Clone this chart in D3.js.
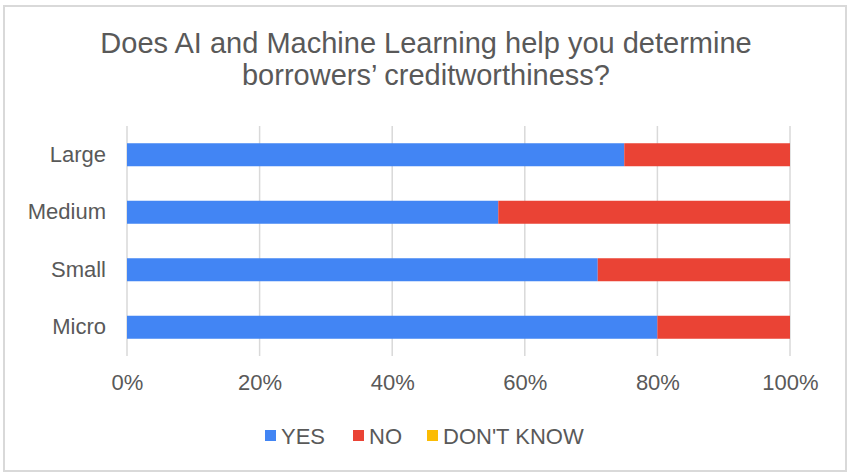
<!DOCTYPE html>
<html>
<head>
<meta charset="utf-8">
<script src="https://cdn.jsdelivr.net/npm/d3@7"></script>
<style>
  body { margin: 0; background: #fff; }
  svg text { font-family: "Liberation Sans", Arial, sans-serif; fill: #595959; }
</style>
</head>
<body>
<div id="graph"></div>
<script>
const categories = ["Large", "Medium", "Small", "Micro"];
const seriesNames = ["YES", "NO", "DON'T KNOW"];
const yesValues = [0.75, 0.56, 0.71, 0.80];
const noValues = [0.25, 0.44, 0.29, 0.20];
const dontKnowValues = [0, 0, 0, 0];
const tickValues = [0, 0.2, 0.4, 0.6, 0.8, 1];
const colors = ["#4285F4", "#EA4335", "#FBBC04"];

const W = 850, H = 473;
const margin = {top: 126, right: 60, bottom: 117, left: 127};

const svg = d3.select("#graph")
    .append("svg")
    .attr("width", W)
    .attr("height", H);

// outer border
svg.append("rect")
    .attr("x", 4).attr("y", 6)
    .attr("width", 842).attr("height", 465)
    .attr("fill", "#fff")
    .attr("stroke", "#d9d9d9")
    .attr("stroke-width", 2);

const x = d3.scaleLinear()
    .domain([0, 1])
    .range([margin.left, W - margin.right]);
const y = d3.scaleBand()
    .domain(categories)
    .range([margin.top, H - margin.bottom])
    .paddingInner(0.6)
    .paddingOuter(0.3);

// title
svg.append("text")
    .attr("text-anchor", "middle")
    .style("font-size", "29px")
    .selectAll("tspan")
    .data(["Does AI and Machine Learning help you determine", "borrowers\u2019 creditworthiness?"])
    .enter().append("tspan")
    .attr("x", 426)
    .attr("y", (d, i) => 53 + i * 32)
    .text(d => d);

// gridlines
svg.append("g")
    .selectAll("line")
    .data(tickValues)
    .enter().append("line")
    .attr("x1", d => x(d)).attr("x2", d => x(d))
    .attr("y1", margin.top).attr("y2", H - margin.bottom)
    .attr("stroke", "#d9d9d9")
    .attr("stroke-width", 1.5);

// stacked data
const table = categories.map((c, i) => ({
    cat: c, "YES": yesValues[i], "NO": noValues[i], "DON'T KNOW": dontKnowValues[i]
}));
const stacked = d3.stack().keys(seriesNames)(table);

svg.append("g")
    .selectAll("g")
    .data(stacked)
    .enter().append("g")
    .attr("fill", (d, i) => colors[i])
    .selectAll("rect")
    .data(d => d)
    .enter().append("rect")
    .attr("x", d => x(d[0]))
    .attr("y", d => y(d.data.cat))
    .attr("width", d => x(d[1]) - x(d[0]))
    .attr("height", y.bandwidth());

// x axis labels
const xAxis = svg.append("g")
    .attr("transform", "translate(0," + (H - margin.bottom) + ")")
    .call(d3.axisBottom(x).tickValues(tickValues).tickFormat(d3.format(".0%")).tickSize(0).tickPadding(18));
xAxis.select(".domain").remove();
xAxis.selectAll("text").style("font-size", "22px").attr("fill", "#595959");

// y axis labels
const yAxis = svg.append("g")
    .attr("transform", "translate(" + margin.left + ",0)")
    .call(d3.axisLeft(y).tickSize(0).tickPadding(21));
yAxis.select(".domain").remove();
yAxis.selectAll("text").style("font-size", "22px").attr("fill", "#595959");

// legend
const legendX = [265, 353, 427];
const legend = svg.append("g")
    .selectAll("g")
    .data(seriesNames)
    .enter().append("g")
    .attr("transform", (d, i) => "translate(" + legendX[i] + ",436)");
legend.append("rect")
    .attr("x", 0).attr("y", -6)
    .attr("width", 11).attr("height", 11)
    .attr("fill", (d, i) => colors[i]);
legend.append("text")
    .attr("x", 16).attr("y", 0)
    .attr("dy", "0.35em")
    .style("font-size", "22px")
    .text(d => d);
</script>
</body>
</html>
